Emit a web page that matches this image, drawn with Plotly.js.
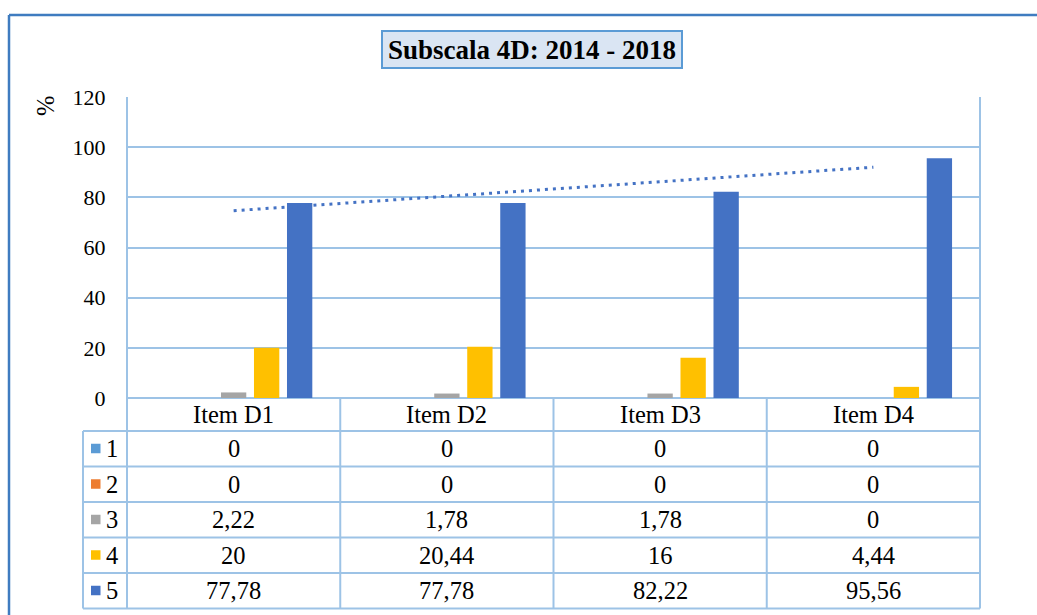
<!DOCTYPE html>
<html>
<head>
<meta charset="utf-8">
<script src="https://cdn.plot.ly/plotly-3.0.1.min.js"></script>
<style>html,body{margin:0;padding:0;background:#fff;}#chart{width:1037px;height:615px;}</style>
</head>
<body>
<div id="chart"></div>
<script>
// ---- data ----
const categories = ['Item D1', 'Item D2', 'Item D3', 'Item D4'];
const seriesNames = ['1', '2', '3', '4', '5'];
const s1 = [0, 0, 0, 0];
const s2 = [0, 0, 0, 0];
const s3 = [2.22, 1.78, 1.78, 0];
const s4 = [20, 20.44, 16, 4.44];
const s5 = [77.78, 77.78, 82.22, 95.56];
const yTicks = [0, 20, 40, 60, 80, 100, 120];
const titleText = 'Subscala 4D: 2014 - 2018';

// ---- styling ----
const colors = ['#5B9BD5', '#ED7D31', '#A5A5A5', '#FFC000', '#4472C4'];
const seriesData = [s1, s2, s3, s4, s5];
const FONT = '"Liberation Serif", "Times New Roman", serif';
const FS = 24.5;
const GRID = '#9DC3E6';
const W = 1037, H = 615;
const L = 127, R = 980, T = 97, B = 398;
const px = x => (x - L) / (R - L);
const py = y => (B - y) / (B - T);

// linear trendline for series 5
const n = s5.length;
const xs = s5.map((_, i) => i + 1);
const mx = xs.reduce((a, b) => a + b, 0) / n;
const my = s5.reduce((a, b) => a + b, 0) / n;
let num = 0, den = 0;
for (let i = 0; i < n; i++) { num += (xs[i] - mx) * (s5[i] - my); den += (xs[i] - mx) ** 2; }
const slope = num / den, icpt = my - slope * mx;
const trendY = xs.map(x => icpt + slope * x);

const traces = seriesData.map((d, i) => ({
  type: 'bar', x: categories, y: d, name: seriesNames[i],
  marker: { color: colors[i], line: { width: 0 } }, hoverinfo: 'none'
}));
traces.push({
  type: 'scatter', mode: 'lines', x: categories, y: trendY,
  line: { color: '#4472C4', width: 3, dash: '3px,5px' }, hoverinfo: 'none', showlegend: false
});

const fmt = v => String(v).replace('.', ',');

// table geometry
const rowEdges = [398, 431, 466.5, 502, 537.5, 573, 608.5];
const shapes = [];
const annotations = [];
const tfont = { family: FONT, size: FS, color: '#000' };

// outer chart border
shapes.push({ type: 'line', xref: 'paper', yref: 'paper', x0: px(9), x1: px(W + 5), y0: py(15), y1: py(15), line: { color: '#3F7CC0', width: 2.5 } });
shapes.push({ type: 'line', xref: 'paper', yref: 'paper', x0: px(9), x1: px(9), y0: py(15), y1: py(H + 5), line: { color: '#3F7CC0', width: 2.5 } });

// title box
shapes.push({ type: 'rect', xref: 'paper', yref: 'paper', x0: px(382), x1: px(682), y0: py(68), y1: py(31), fillcolor: '#DAE5F3', line: { color: '#5B9BD5', width: 2 }, layer: 'below' });

// plot border verticals (extend through table)
[L, R].forEach(x => shapes.push({ type: 'line', xref: 'paper', yref: 'paper', x0: px(x), x1: px(x), y0: py(T), y1: py(rowEdges[6]), line: { color: GRID, width: 2 } }));
// category separators within the table
for (let i = 1; i < categories.length; i++) {
  shapes.push({ type: 'line', xref: 'x', yref: 'paper', x0: i - 0.5, x1: i - 0.5, y0: py(B), y1: py(rowEdges[6]), line: { color: GRID, width: 2 } });
}
// legend column left edge
shapes.push({ type: 'line', xref: 'paper', yref: 'paper', x0: px(83), x1: px(83), y0: py(rowEdges[1]), y1: py(rowEdges[6]), line: { color: GRID, width: 2 } });
// horizontal table lines
rowEdges.slice(1).forEach(y => shapes.push({ type: 'line', xref: 'paper', yref: 'paper', x0: px(83), x1: px(R), y0: py(y), y1: py(y), line: { color: GRID, width: 2 } }));

// header row: categories
categories.forEach(c => annotations.push({
  xref: 'x', yref: 'paper', x: c, y: py((rowEdges[0] + rowEdges[1]) / 2), text: c, showarrow: false,
  font: tfont, xanchor: 'center', yanchor: 'middle'
}));
// data rows
seriesData.forEach((d, r) => {
  const yc = (rowEdges[r + 1] + rowEdges[r + 2]) / 2;
  d.forEach((v, c) => annotations.push({
    xref: 'x', yref: 'paper', x: categories[c], y: py(yc), text: fmt(v), showarrow: false,
    font: tfont, xanchor: 'center', yanchor: 'middle'
  }));
  shapes.push({ type: 'rect', xref: 'paper', yref: 'paper', x0: px(91), x1: px(100.5), y0: py(yc + 4.5), y1: py(yc - 5), fillcolor: colors[r], line: { width: 0 } });
  annotations.push({
    xref: 'paper', yref: 'paper', x: px(104), y: py(yc), text: seriesNames[r], showarrow: false,
    font: tfont, xanchor: 'left', yanchor: 'middle'
  });
});

// y axis label
annotations.push({ xref: 'paper', yref: 'paper', x: px(45), y: py(106), text: '%', textangle: -90, showarrow: false, font: tfont, xanchor: 'center', yanchor: 'middle' });

const layout = {
  width: W, height: H,
  margin: { l: L, r: W - R, t: T, b: H - B, pad: 0 },
  paper_bgcolor: '#fff', plot_bgcolor: '#fff',
  showlegend: false,
  barmode: 'group', bargap: 0.226, bargroupgap: 0.233,
  title: { text: '<b>' + titleText + '</b>', font: { family: FONT, size: 27, color: '#000' }, xref: 'container', x: 532 / W, xanchor: 'center', yref: 'container', y: 1 - 50 / H, yanchor: 'middle' },
  xaxis: { type: 'category', range: [-0.5, categories.length - 0.5], showticklabels: false, showgrid: false, zeroline: false, showline: false, ticks: '' },
  yaxis: {
    range: [0, 120], tickvals: yTicks, ticktext: yTicks.map(String), showgrid: true, gridcolor: GRID, gridwidth: 2,
    zeroline: true, zerolinecolor: GRID, zerolinewidth: 2, showline: false,
    ticks: 'outside', ticklen: 16, tickcolor: 'rgba(0,0,0,0)',
    tickfont: { family: FONT, size: 22, color: '#000' }
  },
  shapes: shapes, annotations: annotations
};

Plotly.newPlot('chart', traces, layout, { staticPlot: true, displayModeBar: false });
</script>
</body>
</html>
